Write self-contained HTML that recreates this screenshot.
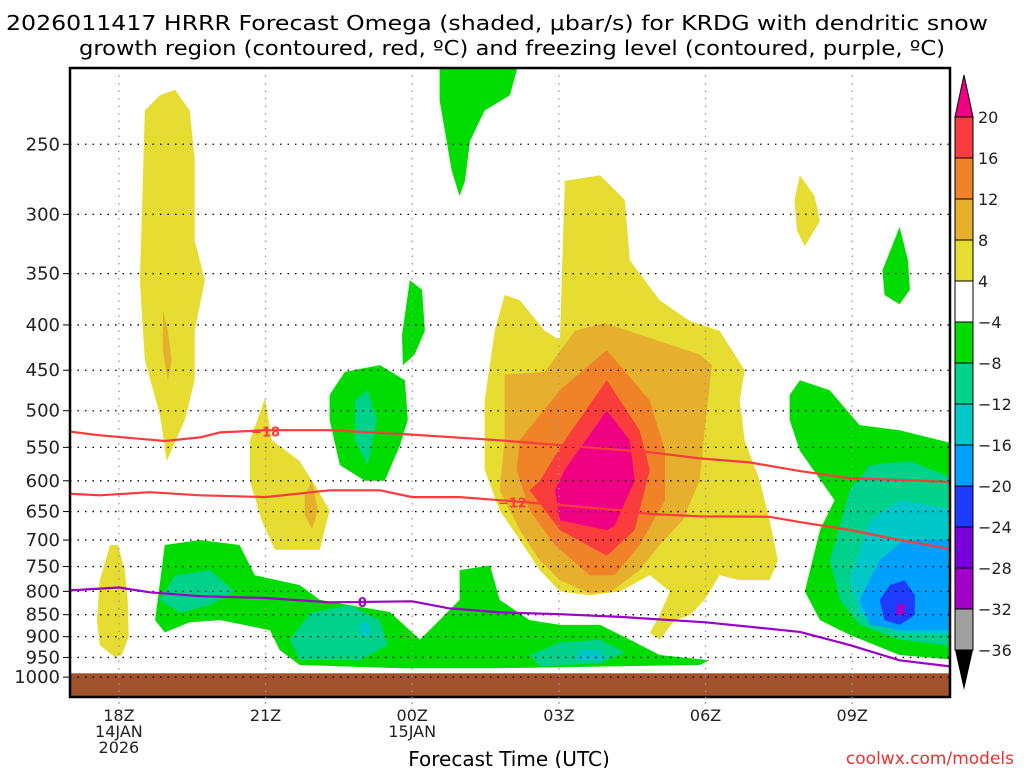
<!DOCTYPE html>
<html><head><meta charset="utf-8"><style>
html,body{margin:0;padding:0;background:#fff;width:1024px;height:768px;overflow:hidden}
svg{display:block}
text{font-family:"DejaVu Sans","Liberation Sans",sans-serif}
</style></head><body>
<svg id="chart" width="1024" height="768" viewBox="0 0 1024 768" xmlns="http://www.w3.org/2000/svg">
<text x="497" y="30" font-size="20" text-anchor="middle" textLength="982" lengthAdjust="spacingAndGlyphs">2026011417 HRRR Forecast Omega (shaded, μbar/s) for KRDG with dendritic snow</text>
<text x="512" y="55" font-size="20" text-anchor="middle" textLength="866" lengthAdjust="spacingAndGlyphs">growth region (contoured, red, ºC) and freezing level (contoured, purple, ºC)</text>
<defs><clipPath id="pc"><rect x="70" y="68" width="880" height="629"/></clipPath></defs>
<g id="fields" clip-path="url(#pc)"></g>
<g id="grid"></g>
<g id="lines" clip-path="url(#pc)"></g>
<rect x="70" y="68" width="880" height="629" fill="none" stroke="#000" stroke-width="2.5"/>
<g id="axes"></g>
<g id="cbar"></g>
<text x="509" y="766" font-size="20" text-anchor="middle">Forecast Time (UTC)</text>
<text x="1014" y="764" font-size="17" fill="#e83030" text-anchor="end">coolwx.com/models</text>
</svg>
<script>
const NS="http://www.w3.org/2000/svg";
// axes: hours relative to 18Z 14 Jan, pressure hPa
const hourMin=-1, hourMax=17;
const pTop=205, pBottom=1053;
const pressureTicks=[250,300,350,400,450,500,550,600,650,700,750,800,850,900,950,1000];
const hourTicks=[0,3,6,9,12,15];
const hourLabels=[["18Z","14JAN","2026"],["21Z"],["00Z","15JAN"],["03Z"],["06Z"],["09Z"]];
const cbarLevels=["20","16","12","8","4","−4","−8","−12","−16","−20","−24","−28","−32","−36"];
const cbarColors=["#fa3c3c","#f08228","#e6af2d","#e6dc32","#ffffff","#00dc00","#00d28c","#00c8c8","#00a0ff","#1e3cff","#7800dc","#a000c8","#a0a0a0"];
// shaded regions: [color, [[hour,hPa],...]]
const yellowCentral=[[7.89,370],[8.2,375],[8.71,406],[9.02,416],[9.12,275],[9.84,271],[10.35,289],[10.45,338],[11.06,375],[11.68,396],[12.29,406],[12.8,450],[12.7,487],[12.8,540],[13.11,600],[13.31,665],[13.48,738],[13.31,777],[12.7,777],[12.29,767],[11.98,818],[11.68,851],[11.37,862],[11.06,907],[10.86,891],[11.06,851],[11.27,800],[10.86,767],[10.25,800],[9.63,808],[9.02,800],[8.61,757],[8.2,700],[7.79,648],[7.48,583],[7.48,487],[7.69,406]];
const orangeCentral=[[7.89,455],[8.71,452],[9.33,406],[9.94,398],[11.88,432],[12.13,444],[11.98,526],[11.88,600],[11.53,665],[11.06,709],[10.65,757],[10.08,800],[9.63,804],[9.02,777],[8.61,738],[8.2,682],[7.79,615],[7.89,540]];
const darkOrangeCentral=[[8.2,540],[9.02,474],[9.98,427],[10.86,487],[11.17,555],[11.17,631],[10.65,709],[10.14,767],[9.63,767],[8.92,709],[8.4,648],[8.14,583]];
const redCentral=[[9.12,540],[9.98,462],[10.65,526],[10.86,583],[10.55,682],[9.98,729],[9.02,682],[8.4,615],[8.61,600]];
const magentaCentral=[[9.12,583],[9.98,500],[10.45,540],[10.55,600],[10.14,674],[9.98,682],[9.02,665],[8.92,615]];
const yellowLeftTall=[[0.53,229],[0.84,220],[1.15,217],[1.45,229],[1.55,260],[1.55,321],[1.76,356],[1.55,406],[1.55,462],[1.35,512],[0.98,570],[0.84,506],[0.53,438],[0.43,356],[0.47,300]];
const orangeLeftTall=[[0.9,385],[1.0,406],[1.08,438],[1.0,462],[0.9,427]];
const yellow18Z=[[-0.39,777],[-0.18,709],[-0.02,709],[0.12,757],[0.18,818],[0.2,900],[0.06,944],[-0.08,950],[-0.39,920],[-0.45,862]];
const yellow21Z=[[2.68,540],[2.99,484],[3.13,540],[3.7,570],[4.07,615],[4.31,648],[4.11,718],[3.7,718],[3.19,718],[2.92,665],[2.68,600]];
const orange21Z=[[3.8,623],[3.95,600],[4.07,648],[3.95,680],[3.8,656]];
const greenTop=[[6.56,200],[8.2,200],[8.0,220],[7.48,229],[7.18,248],[7.08,275],[6.97,286],[6.81,268],[6.56,223]];
const green00Z=[[5.79,411],[5.95,356],[6.2,365],[6.26,406],[6.05,432],[5.81,444]];
const greenMid=[[4.31,480],[4.62,452],[5.34,444],[5.85,462],[5.91,512],[5.75,547],[5.44,600],[5.03,600],[4.52,576],[4.31,512]];
const tealMid=[[4.83,487],[5.09,474],[5.28,512],[5.09,576],[4.83,540]];
const greenBottom=[[0.74,862],[0.94,709],[1.66,700],[2.47,709],[2.78,767],[3.7,787],[4.11,818],[4.72,829],[5.54,844],[5.95,885],[6.16,907],[6.56,862],[6.97,818],[6.97,757],[7.59,748],[7.79,818],[8.4,862],[9.02,873],[9.84,873],[10.45,907],[11.06,944],[12.08,957],[11.88,969],[7.79,977],[5.75,977],[3.7,969],[3.29,932],[3.09,885],[2.07,862],[1.45,867],[0.94,890]];
const tealA=[[0.84,818],[1.15,767],[1.86,757],[2.37,800],[1.86,829],[1.25,846]];
const tealB=[[3.5,907],[3.91,846],[4.72,829],[5.34,862],[5.5,920],[4.93,957],[3.7,957]];
const cyanB=[[4.9,870],[5.1,865],[5.15,895],[4.95,900]];
const tealC=[[8.4,944],[9.02,913],[9.84,907],[10.35,938],[9.84,964],[8.61,972]];
const cyanC=[[9.43,932],[9.84,932],[9.94,957],[9.33,957]];
const greenRight=[[13.72,480],[13.93,462],[14.54,474],[15.15,519],[15.97,526],[17.2,547],[17.2,957],[15.97,944],[14.95,896],[14.34,862],[14.03,800],[14.34,682],[14.64,631],[13.93,555],[13.72,512]];
const tealRight=[[14.54,738],[14.95,615],[15.36,576],[16.18,570],[17.2,600],[17.2,925],[15.97,907],[15.15,873],[14.75,818]];
const cyanRight=[[14.95,777],[15.36,665],[15.97,631],[17.2,648],[17.2,896],[15.97,891],[15.15,851]];
const blueRight=[[15.15,818],[15.56,738],[16.07,700],[17.2,700],[17.2,885],[15.97,885],[15.36,873]];
const darkBlueRight=[[15.56,818],[15.77,787],[16.07,777],[16.28,808],[16.28,851],[15.97,873],[15.66,862]];
const purpleRight=[[15.91,829],[16.07,825],[16.07,851],[15.91,851]];
const greenTopRight=[[15.62,347],[15.97,310],[16.14,338],[16.18,365],[15.97,379],[15.66,370]];
const yellowTopRight=[[13.82,289],[13.93,271],[14.23,286],[14.34,305],[14.03,326],[13.87,313]];
const regions=[
 ["yellow-central","#e6dc32",yellowCentral],["orange-central","#e6af2d",orangeCentral],["dark-orange-central","#f08228",darkOrangeCentral],["red-central","#fa3c3c",redCentral],["magenta-central","#f00082",magentaCentral],
 ["yellow-left-tall","#e6dc32",yellowLeftTall],["orange-left-tall","#e6af2d",orangeLeftTall],["yellow-18z","#e6dc32",yellow18Z],["yellow-21z","#e6dc32",yellow21Z],["orange-21z","#e6af2d",orange21Z],
 ["green-top","#00dc00",greenTop],["green-00z","#00dc00",green00Z],["green-mid","#00dc00",greenMid],["teal-mid","#00d28c",tealMid],
 ["green-bottom","#00dc00",greenBottom],["teal-a","#00d28c",tealA],["teal-b","#00d28c",tealB],["cyan-b","#00c8c8",cyanB],["teal-c","#00d28c",tealC],["cyan-c","#00c8c8",cyanC],
 ["green-right","#00dc00",greenRight],["teal-right","#00d28c",tealRight],["cyan-right","#00c8c8",cyanRight],["blue-right","#00a0ff",blueRight],["dark-blue-right","#1e3cff",darkBlueRight],["purple-right","#a000c8",purpleRight],
 ["green-top-right","#00dc00",greenTopRight],["yellow-top-right","#e6dc32",yellowTopRight]];
// contour lines: hour and pressure arrays
const dgzColdHours=[-1.6,-0.39,0.94,1.66,2.07,3,4.31,6,7.79,9.02,10.86,11.88,12.9,13.93,14.95,17.1];
const dgzColdP=[523,533,541,536,529,526,526,532,540,547,557,566,572,585,596,602];
const dgzWarmHours=[-1.6,-0.39,0.63,1.66,3,4.31,5.34,6,6.97,7.79,9.02,10.25,10.86,11.88,13.31,13.93,14.95,15.97,17.1];
const dgzWarmP=[618,623,618,623,626,615,615,626,626,631,639,648,654,658,659,668,682,700,718];
const frzHours=[-1.6,-1.0,0,0.63,1.66,3,4.31,6,6.75,7.79,9.02,10.25,12,13.93,14.95,15.97,17.1];
const frzP=[806,798,792,802,810,814,823,821,836,845,849,855,867,889,920,957,974];
const groundP=990;

const X=h=>70+(h-hourMin)/(hourMax-hourMin)*880;
const Y=p=>68+Math.log(p/pTop)/Math.log(pBottom/pTop)*629;
const mk=(t,a,parent)=>{const e=document.createElementNS(NS,t);for(const k in a)e.setAttribute(k,a[k]);parent.appendChild(e);return e;};
const fields=document.getElementById('fields');
regions.forEach(r=>{
 const e=mk('polygon',{points:r[2].map(q=>X(q[0]).toFixed(1)+','+Y(q[1]).toFixed(1)).join(' '),fill:r[1]},fields);
 
 
});
const gr=mk('rect',{x:60,y:Y(groundP),width:900,height:700-Y(groundP),fill:'#a0522d'},fields);


const grid=document.getElementById('grid'), axes=document.getElementById('axes');
pressureTicks.forEach(p=>{
 const y=Y(p);
 const g=mk('line',{x1:70,x2:950,y1:y,y2:y,stroke:'#000','stroke-width':1.3,'stroke-dasharray':'1.5 6'},grid);
 
 
 mk('line',{x1:63,x2:70,y1:y,y2:y,stroke:'#000','stroke-width':1},axes);
 const t=mk('text',{x:60,y:y+6,'font-size':18,'text-anchor':'end',fill:'#222'},axes);
 t.textContent=p;
 
 
});
hourTicks.forEach((h,i)=>{
 const x=X(h);
 const g=mk('line',{x1:x,x2:x,y1:68,y2:697,stroke:'#999','stroke-width':1.3,'stroke-dasharray':'1.5 6'},grid);
 
 
 mk('line',{x1:x,x2:x,y1:697,y2:705,stroke:'#999','stroke-width':1.3,'stroke-dasharray':'2 3'},axes);
 hourLabels[i].forEach((s,j)=>{
  const t=mk('text',{x:x,y:721+j*16,'font-size':16,'text-anchor':'middle',fill:'#222'},axes);
  t.textContent=s;
  
  
 });
});
const lines=document.getElementById('lines');
function drawLine(hs,ps,color,name,labelIdx,label){
 const e=mk('polyline',{points:hs.map((h,i)=>X(h).toFixed(1)+','+Y(ps[i]).toFixed(1)).join(' '),fill:'none',stroke:color,'stroke-width':2.2},lines);
 
 
 const lx=X(label[0]), ly=Y(label[1]);
 mk('rect',{x:lx-12,y:ly-7,width:24,height:14,fill:'rgba(255,255,255,0)'},lines);
 const t=mk('text',{x:lx,y:ly+5,'font-size':13,'font-weight':'bold','text-anchor':'middle',fill:color},lines);
 t.textContent=labelIdx;
 
 
}
drawLine(dgzColdHours,dgzColdP,'#fa3c3c','contour-minus-18','−18',[3,528]);
drawLine(dgzWarmHours,dgzWarmP,'#fa3c3c','contour-minus-12','−12',[8.05,635]);
drawLine(frzHours,frzP,'#9a00c8','freezing-level-0','0',[4.98,822]);
// colorbar
const cb=document.getElementById('cbar');
const cbTop=117, cbStep=41, cbx=955, cbw=18;
const up=mk('polygon',{points:`${cbx},${cbTop} ${cbx+cbw},${cbTop} ${cbx+cbw/2},75`,fill:'#f00082',stroke:'#000','stroke-width':1},cb);


cbarColors.forEach((c,i)=>{
 const r=mk('rect',{x:cbx,y:cbTop+i*cbStep,width:cbw,height:cbStep,fill:c,stroke:'#000','stroke-width':1},cb);
 
 
});
const bot=cbTop+cbarColors.length*cbStep;
const dn=mk('polygon',{points:`${cbx},${bot} ${cbx+cbw},${bot} ${cbx+cbw/2},690`,fill:'#000'},cb);


cbarLevels.forEach((s,i)=>{
 const t=mk('text',{x:978,y:cbTop+i*cbStep+6,'font-size':16,fill:'#222'},cb);
 t.textContent=s;
 
 
});
</script>
</body></html>
